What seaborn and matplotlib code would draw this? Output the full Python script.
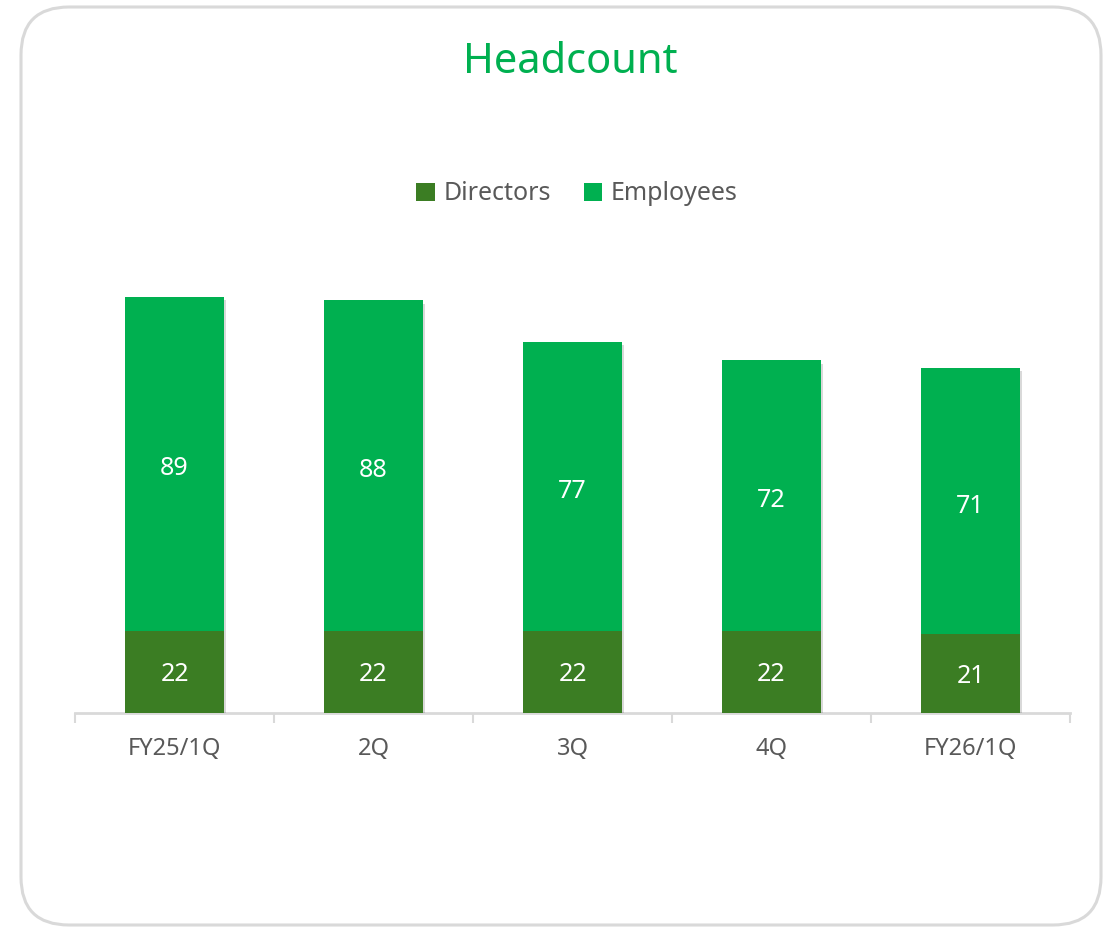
import matplotlib
matplotlib.use("Agg")
import matplotlib.pyplot as plt
import matplotlib.patheffects as pe
from matplotlib.patches import FancyBboxPatch, Patch
import seaborn as sns
import pandas as pd

categories = ["FY25/1Q", "2Q", "3Q", "4Q", "FY26/1Q"]
directors = [22, 22, 22, 22, 21]
employees = [89, 88, 77, 72, 71]
series_names = ["Directors", "Employees"]

DIR_COLOR = "#3B7D23"
EMP_COLOR = "#00B050"
TEXT_GRAY = "#595959"
LINE_GRAY = "#D9D9D9"

sns.set_theme(style="white")
plt.rcParams["font.family"] = ["Noto Sans", "DejaVu Sans"]

fig = plt.figure(figsize=(11.14, 9.30), dpi=100)

# background rounded frame
bg = fig.add_axes([0, 0, 1, 1], zorder=-1)
bg.set_xlim(0, 1114)
bg.set_ylim(930, 0)
bg.axis("off")
bg.add_patch(FancyBboxPatch((21, 7), 1080, 918,
                            boxstyle="round,pad=0,rounding_size=48",
                            facecolor="white", edgecolor=LINE_GRAY, linewidth=2.2))

ax = fig.add_axes([75 / 1114, 217 / 930, 995 / 1114, 450 / 930])
ax.patch.set_alpha(0)

df = pd.DataFrame({
    "category": categories,
    "directors": directors,
    "employees": employees,
})
df["total"] = df["directors"] + df["employees"]

shadow = [pe.SimplePatchShadow(offset=(1.5, -2.5), shadow_rgbFace="black", alpha=0.15), pe.Normal()]

sns.barplot(data=df, x="category", y="total", color=EMP_COLOR, width=0.5,
            saturation=1, ax=ax, zorder=2)
sns.barplot(data=df, x="category", y="directors", color=DIR_COLOR, width=0.5,
            saturation=1, ax=ax, zorder=3)
for p in ax.patches:
    p.set_linewidth(0)
for p in ax.containers[0].patches:
    p.set_path_effects(shadow)

for i, (d, e) in enumerate(zip(directors, employees)):
    ax.text(i, d / 2, str(d), ha="center", va="center_baseline", color="white", fontsize=18, zorder=5)
    ax.text(i, d + e / 2 - 0.6, str(e), ha="center", va="center_baseline", color="white", fontsize=18, zorder=5)

ax.set_ylim(0, 120)
ax.set_xlim(-0.5, len(categories) - 0.5)
ax.set_xlabel("")
ax.set_ylabel("")
ax.set_yticks([])
for s in ["top", "right", "left"]:
    ax.spines[s].set_visible(False)
ax.spines["bottom"].set_color(LINE_GRAY)
ax.spines["bottom"].set_linewidth(2)
ax.spines["bottom"].set_zorder(1)

ax.set_xticks(range(len(categories)))
ax.set_xticklabels(categories, fontsize=17, color=TEXT_GRAY)
ax.tick_params(axis="x", which="major", length=0, pad=17, bottom=False)
# boundary ticks between categories
ax.set_xticks([i - 0.5 for i in range(len(categories) + 1)], minor=True)
ax.tick_params(axis="x", which="minor", bottom=True, length=7, width=1.5,
               color=LINE_GRAY, direction="out")

fig.text(0.512, 1 - 62 / 930, "Headcount", ha="center", va="center",
         fontsize=30, color=EMP_COLOR)

handles = [Patch(facecolor=DIR_COLOR, edgecolor="none"),
           Patch(facecolor=EMP_COLOR, edgecolor="none")]
fig.legend(handles, series_names, loc="center", bbox_to_anchor=(0.518, 1 - 194 / 930),
           ncol=2, frameon=False, fontsize=18, labelcolor=TEXT_GRAY,
           handlelength=0.75, handleheight=0.75, handletextpad=0.35, columnspacing=1.3)

fig.savefig("out.png", dpi=100, facecolor="white")
